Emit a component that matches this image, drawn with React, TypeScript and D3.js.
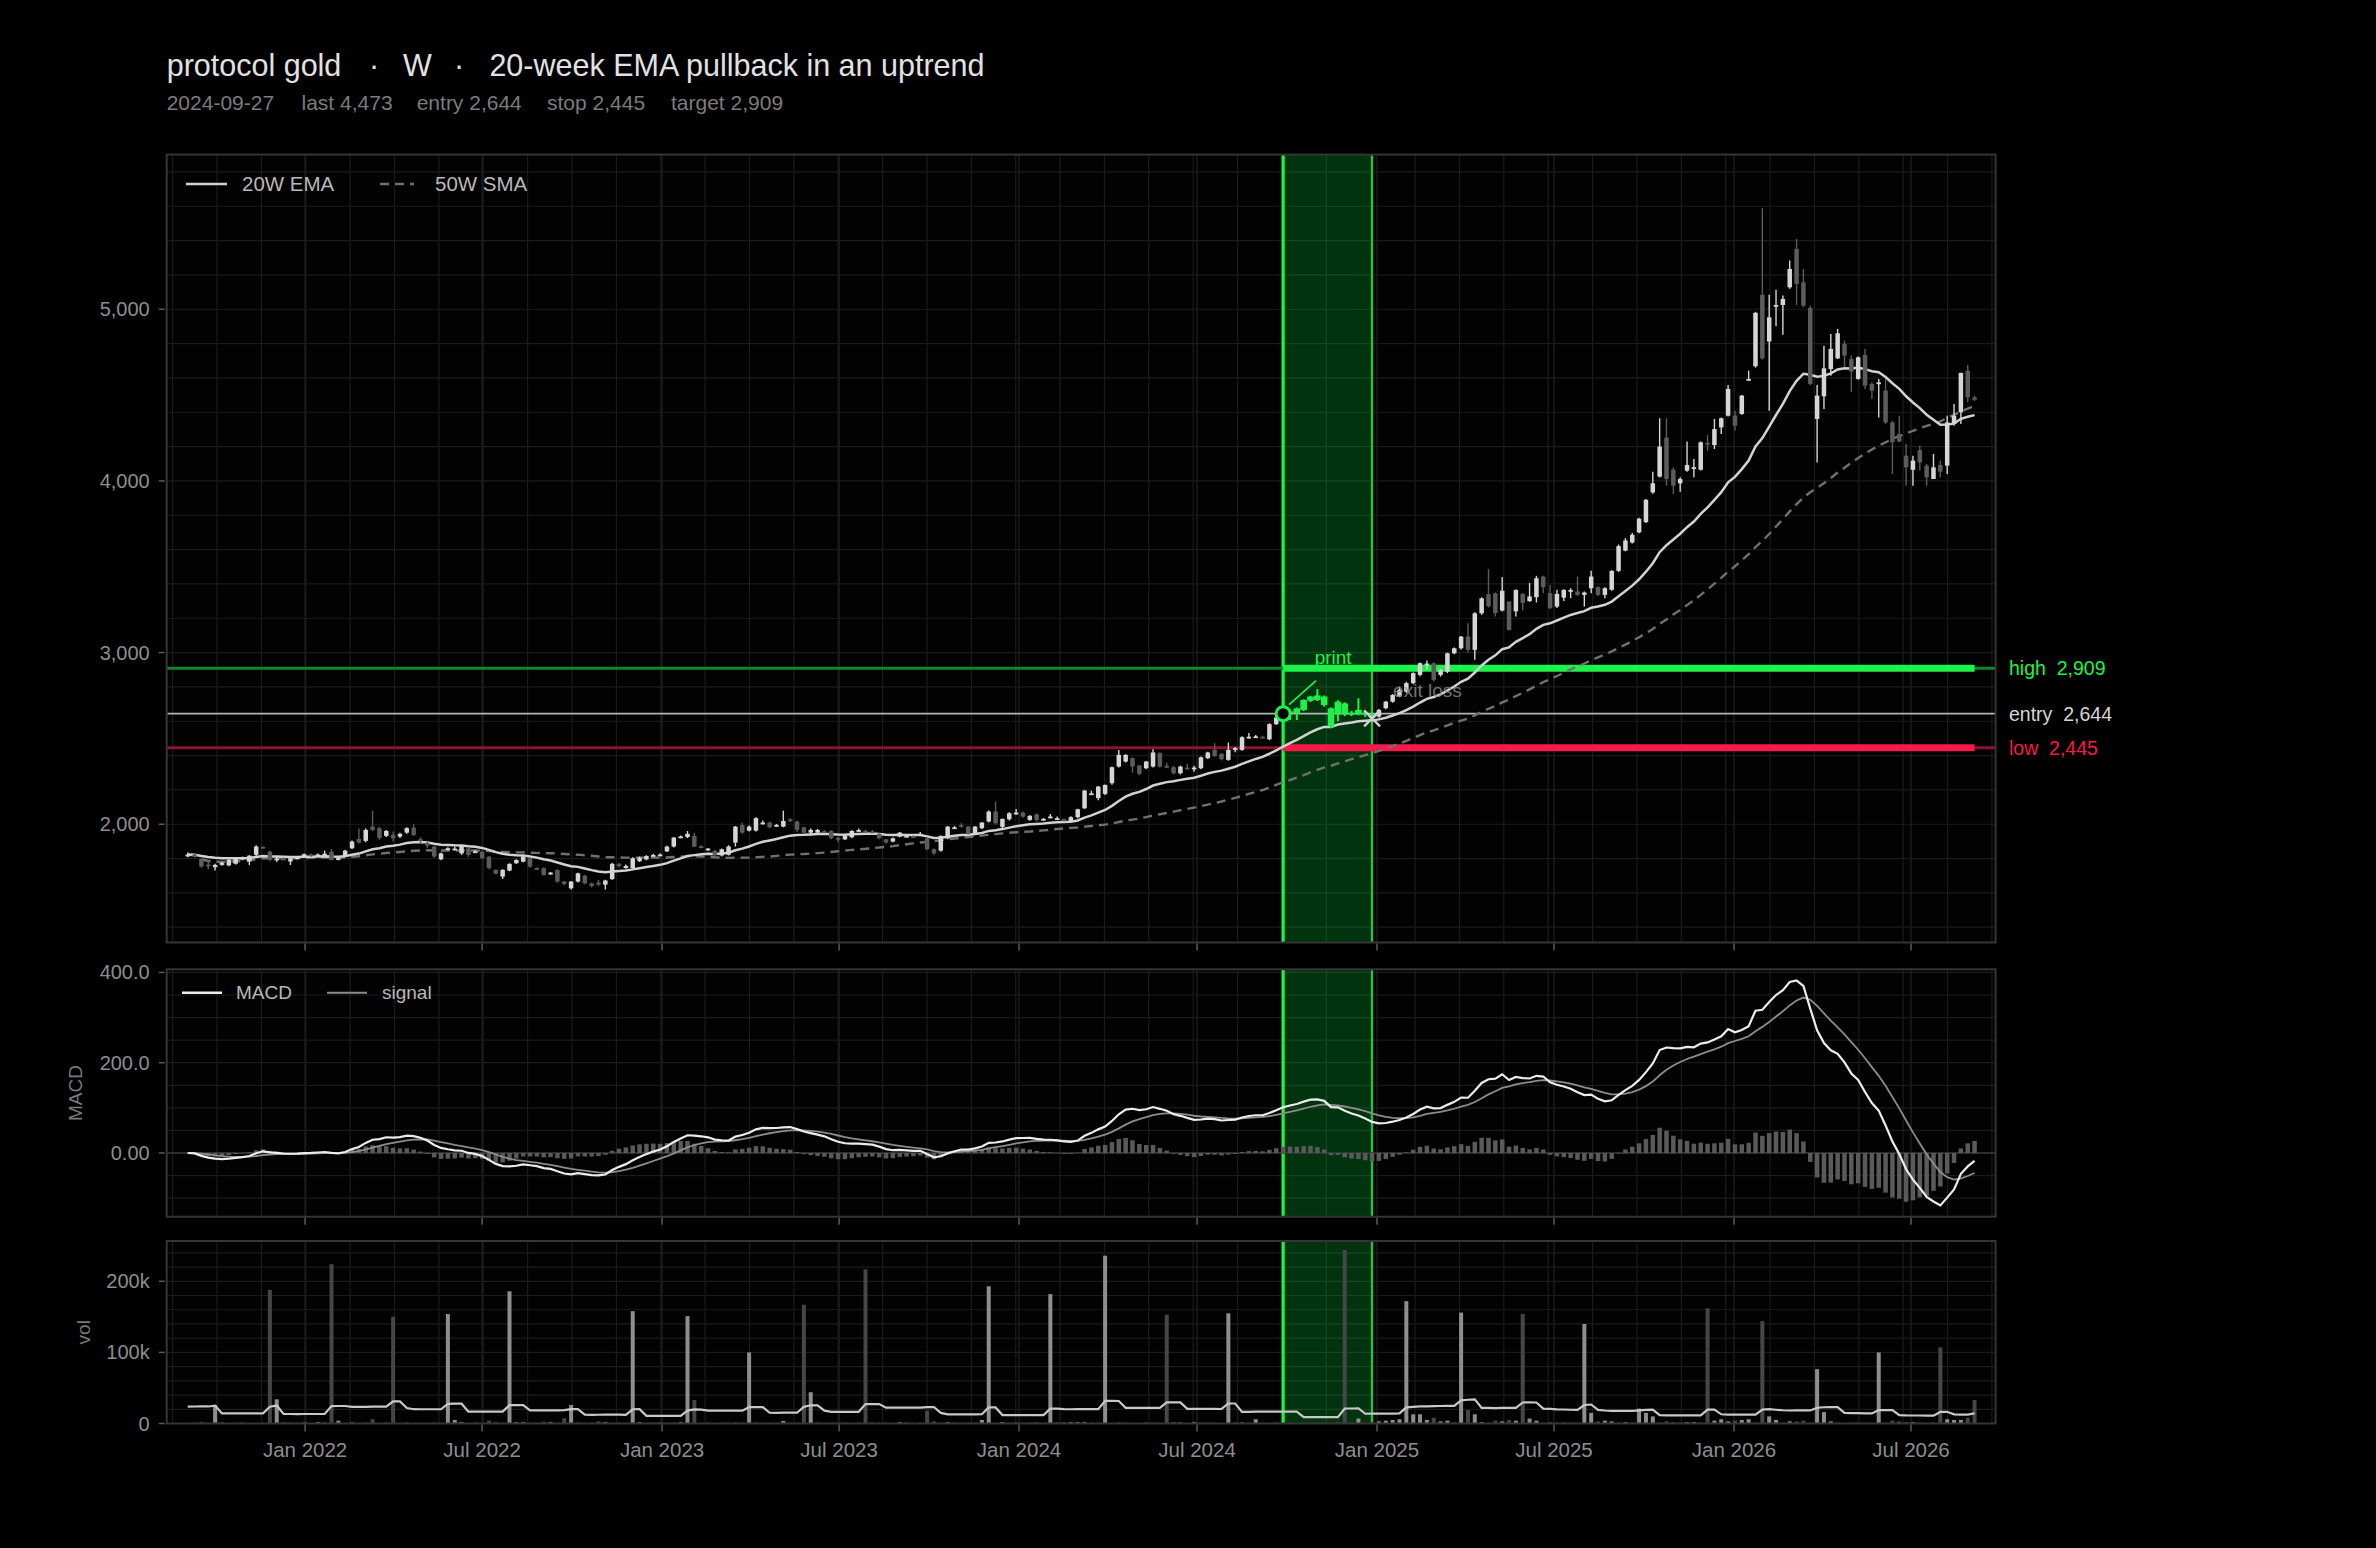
import React from 'react';
import * as d3 from 'd3';

const W = 2376;
const H = 1548;
const FONT = "'Liberation Sans', Arial, Helvetica, sans-serif";

// ---- data -----------------------------------------------------------------
const firstWeek = '2021-09-03';
const entryDate = '2024-09-27';
const exitDate = '2024-12-27';
const entryPrice = 2644;
const stopPrice = 2445;
const targetPrice = 2909;
const exitPrice = 2617;

// weekly OHLC, one value per week from firstWeek
const open = [
  1815, 1823, 1798, 1765, 1750, 1763, 1760, 1770, 1800, 1783,
  1822, 1868, 1840, 1795, 1800, 1783, 1800, 1812, 1825, 1815,
  1818, 1840, 1795, 1812, 1860, 1914, 1903, 1986, 1977, 1932,
  1938, 1928, 1951, 1980, 1913, 1890, 1870, 1796, 1855, 1855,
  1830, 1860, 1840, 1840, 1811, 1734, 1695, 1730, 1773, 1782,
  1802, 1745, 1744, 1710, 1733, 1666, 1627, 1666, 1700, 1655,
  1660, 1648, 1680, 1769, 1745, 1745, 1785, 1795, 1815, 1820,
  1842, 1870, 1925, 1925, 1932, 1872, 1848, 1845, 1818, 1822,
  1893, 1996, 1963, 1963, 2006, 2010, 1990, 1986, 2028, 2016,
  1982, 1951, 1951, 1960, 1961, 1920, 1912, 1924, 1962, 1962,
  1958, 1944, 1912, 1899, 1928, 1930, 1930, 1940, 1918, 1854,
  1846, 1918, 1978, 1996, 1986, 1944, 1977, 2016, 2074, 1985,
  2029, 2062, 2068, 2025, 2058, 2028, 2040, 2030, 2030, 2016,
  2041, 2093, 2174, 2152, 2177, 2239, 2336, 2365, 2385, 2342,
  2326, 2336, 2414, 2340, 2332, 2297, 2330, 2322, 2326, 2385,
  2433, 2410, 2375, 2440, 2433, 2505, 2510, 2510, 2495, 2583,
  2622, 2652, 2647, 2665, 2720, 2750, 2744, 2675, 2640, 2704,
  2640, 2640, 2650, 2640, 2627, 2676, 2714, 2744, 2773, 2822,
  2870, 2930, 2938, 2870, 2889, 2996, 3025, 3093, 3016, 3229,
  3340, 3346, 3245, 3297, 3240, 3342, 3300, 3323, 3443, 3346,
  3268, 3320, 3360, 3356, 3336, 3375, 3381, 3336, 3366, 3476,
  3594, 3641, 3700, 3760, 3933, 4025, 4252, 4065, 3986, 4060,
  4075, 4065, 4222, 4209, 4312, 4380, 4380, 4390, 4590, 4668,
  5085, 4812, 5020, 5025, 5128, 5352, 5157, 5008, 4361, 4493,
  4652, 4714, 4798, 4710, 4594, 4734, 4565, 4570, 4526, 4341,
  4273, 4147, 4065, 4180, 4089, 4011, 4093, 4089, 4332, 4400,
  4642, 4487,
];
const high = [
  1835, 1828, 1800, 1785, 1770, 1782, 1797, 1808, 1812, 1820,
  1877, 1872, 1845, 1812, 1806, 1808, 1812, 1830, 1828, 1830,
  1845, 1855, 1808, 1852, 1905, 1975, 1975, 2078, 1985, 1966,
  1958, 1950, 1982, 2000, 1924, 1898, 1875, 1835, 1866, 1870,
  1880, 1865, 1848, 1845, 1815, 1736, 1738, 1773, 1796, 1815,
  1806, 1750, 1748, 1722, 1738, 1670, 1670, 1718, 1705, 1660,
  1675, 1676, 1775, 1774, 1765, 1808, 1812, 1820, 1828, 1830,
  1875, 1926, 1935, 1960, 1950, 1878, 1862, 1850, 1858, 1877,
  1990, 2010, 1992, 2040, 2022, 2015, 2002, 2078, 2035, 2020,
  1986, 1975, 1972, 1966, 1965, 1925, 1936, 1965, 1975, 1968,
  1966, 1948, 1916, 1922, 1955, 1938, 1934, 1955, 1922, 1858,
  1935, 1990, 1990, 2005, 1990, 1990, 2012, 2080, 2132, 2033,
  2070, 2088, 2075, 2052, 2062, 2036, 2060, 2045, 2032, 2046,
  2090, 2200, 2195, 2222, 2232, 2336, 2433, 2408, 2390, 2345,
  2368, 2437, 2420, 2358, 2340, 2340, 2352, 2340, 2394, 2422,
  2472, 2415, 2476, 2450, 2512, 2532, 2520, 2515, 2588, 2630,
  2672, 2670, 2680, 2728, 2748, 2787, 2750, 2680, 2722, 2710,
  2660, 2734, 2655, 2650, 2672, 2718, 2758, 2802, 2830, 2886,
  2942, 2954, 2944, 2904, 3000, 3030, 3096, 3171, 3235, 3322,
  3486, 3350, 3440, 3300, 3368, 3345, 3405, 3447, 3447, 3394,
  3366, 3369, 3375, 3443, 3356, 3476, 3385, 3380, 3480, 3630,
  3667, 3696, 3785, 3895, 4054, 4365, 4365, 4079, 4021, 4230,
  4128, 4230, 4268, 4361, 4370, 4559, 4409, 4500, 4642, 4985,
  5589, 5084, 5113, 5080, 5284, 5410, 5235, 5021, 4559, 4788,
  4856, 4885, 4817, 4730, 4725, 4769, 4575, 4594, 4594, 4351,
  4380, 4215, 4147, 4205, 4098, 4157, 4118, 4380, 4448, 4630,
  4676, 4497,
];
const low = [
  1808, 1806, 1748, 1738, 1730, 1758, 1755, 1765, 1790, 1763,
  1815, 1860, 1785, 1780, 1790, 1763, 1795, 1808, 1810, 1810,
  1812, 1788, 1790, 1808, 1855, 1888, 1895, 1960, 1910, 1925,
  1900, 1920, 1945, 1932, 1890, 1862, 1805, 1790, 1848, 1848,
  1822, 1810, 1832, 1798, 1738, 1708, 1681, 1726, 1768, 1778,
  1748, 1735, 1700, 1705, 1660, 1645, 1620, 1660, 1650, 1632,
  1640, 1620, 1676, 1748, 1740, 1740, 1780, 1790, 1810, 1814,
  1838, 1865, 1918, 1920, 1866, 1860, 1845, 1818, 1812, 1818,
  1870, 1945, 1958, 1958, 1998, 1976, 1985, 1982, 2015, 1955,
  1945, 1935, 1946, 1950, 1912, 1895, 1908, 1920, 1958, 1955,
  1950, 1912, 1888, 1895, 1924, 1925, 1922, 1935, 1850, 1820,
  1840, 1912, 1972, 1980, 1940, 1940, 1972, 2010, 1998, 1977,
  2022, 2055, 2038, 2020, 2015, 2020, 2035, 2025, 2016, 2012,
  2035, 2088, 2170, 2140, 2170, 2230, 2330, 2360, 2300, 2285,
  2320, 2330, 2330, 2328, 2290, 2290, 2320, 2305, 2320, 2380,
  2392, 2372, 2370, 2420, 2428, 2500, 2505, 2500, 2490, 2578,
  2615, 2608, 2607, 2660, 2712, 2718, 2685, 2560, 2600, 2630,
  2630, 2635, 2625, 2610, 2620, 2670, 2708, 2740, 2765, 2815,
  2862, 2900, 2832, 2860, 2880, 2990, 3018, 3000, 2958, 3220,
  3262, 3210, 3240, 3128, 3210, 3245, 3295, 3292, 3346, 3255,
  3260, 3300, 3318, 3330, 3268, 3345, 3330, 3317, 3360, 3470,
  3590, 3635, 3695, 3755, 3925, 4020, 3972, 3924, 3937, 4054,
  4021, 4060, 4176, 4186, 4273, 4375, 4293, 4385, 4584, 4660,
  4707, 4409, 4901, 4852, 5119, 5025, 5012, 4559, 4108, 4419,
  4613, 4710, 4662, 4520, 4590, 4536, 4477, 4370, 4331, 4040,
  4225, 3972, 3972, 4060, 3972, 4011, 4021, 4040, 4322, 4332,
  4458, 4465,
];
const close = [
  1823, 1812, 1753, 1755, 1763, 1775, 1792, 1802, 1806, 1817,
  1870, 1864, 1792, 1800, 1797, 1802, 1808, 1825, 1815, 1824,
  1828, 1792, 1802, 1846, 1899, 1893, 1967, 1967, 1920, 1961,
  1918, 1944, 1977, 1938, 1908, 1875, 1812, 1830, 1860, 1858,
  1873, 1821, 1842, 1802, 1744, 1712, 1734, 1769, 1792, 1811,
  1753, 1742, 1705, 1718, 1666, 1652, 1666, 1714, 1656, 1640,
  1648, 1672, 1769, 1755, 1757, 1802, 1805, 1815, 1821, 1824,
  1870, 1922, 1929, 1944, 1870, 1868, 1858, 1822, 1854, 1870,
  1986, 1951, 1986, 2035, 2010, 1982, 1996, 2019, 2022, 1967,
  1951, 1967, 1967, 1957, 1918, 1918, 1932, 1961, 1966, 1960,
  1957, 1918, 1893, 1918, 1951, 1932, 1928, 1944, 1854, 1830,
  1932, 1986, 1982, 1986, 1944, 1986, 2010, 2074, 2006, 2031,
  2064, 2068, 2045, 2049, 2025, 2031, 2045, 2035, 2025, 2041,
  2087, 2196, 2180, 2219, 2229, 2332, 2404, 2404, 2336, 2293,
  2365, 2418, 2336, 2333, 2297, 2336, 2326, 2330, 2390, 2418,
  2398, 2379, 2433, 2443, 2507, 2510, 2512, 2507, 2583, 2622,
  2658, 2658, 2675, 2724, 2744, 2724, 2695, 2569, 2714, 2640,
  2650, 2666, 2640, 2620, 2666, 2714, 2753, 2783, 2822, 2880,
  2938, 2936, 2841, 2899, 2996, 3025, 3093, 3016, 3229, 3316,
  3270, 3230, 3360, 3132, 3365, 3290, 3327, 3433, 3381, 3258,
  3342, 3365, 3365, 3336, 3350, 3443, 3336, 3375, 3476, 3620,
  3653, 3686, 3780, 3890, 3986, 4200, 4011, 3972, 4011, 4093,
  4080, 4225, 4213, 4302, 4365, 4536, 4322, 4497, 4594, 4979,
  4714, 4953, 5025, 5060, 5235, 5148, 5021, 4565, 4497, 4656,
  4769, 4860, 4730, 4637, 4720, 4555, 4526, 4574, 4341, 4225,
  4229, 4079, 4118, 4108, 4021, 4079, 4054, 4341, 4380, 4629,
  4487, 4473,
];
// weekly volume, thousands
const volume = [
  0.8, 1.5, 2.3, 0.9, 26, 1.2, 0.7, 0.9, 1.1, 0.6,
  0.8, 1.0, 188, 34, 2.0, 1.0, 0.8, 1.5, 0.6, 2.0,
  1.2, 224, 4.0, 0.8, 1.5, 0.7, 1.0, 6.0, 0.9, 1.1,
  150, 0.8, 1.2, 0.6, 1.0, 0.9, 1.3, 0.7, 154, 5.0,
  2.0, 0.8, 1.1, 0.9, 4.0, 2.0, 0.7, 186, 2.0, 2.0,
  0.9, 1.1, 2.5, 2.0, 0.8, 7.5, 26, 1.0, 0.7, 1.2,
  3.0, 2.0, 0.9, 1.1, 0.8, 158, 2.0, 0.7, 1.0, 1.2,
  0.9, 1.0, 2.0, 151, 33, 0.8, 1.1, 0.7, 1.0, 0.9,
  1.2, 0.8, 100, 1.0, 0.9, 1.1, 0.7, 3.5, 1.0, 0.8,
  167, 44, 1.0, 0.9, 1.2, 0.7, 1.1, 0.8, 1.0, 217,
  1.5, 0.9, 1.0, 0.8, 2.0, 1.1, 0.7, 1.0, 18, 3.0,
  0.9, 2.0, 1.0, 0.8, 1.2, 0.9, 5.0, 193, 1.0, 2.0,
  0.8, 1.1, 0.9, 1.0, 2.0, 0.7, 182, 1.2, 2.0, 2.0,
  2.0, 2.0, 0.9, 1.0, 236, 0.8, 1.1, 0.9, 1.0, 0.7,
  1.2, 0.9, 1.0, 153, 2.0, 1.5, 0.8, 2.0, 1.0, 0.9,
  1.1, 0.8, 155, 1.0, 1.5, 0.9, 6.0, 1.0, 0.8, 1.2,
  0.9, 1.0, 0.8, 1.1, 0.9, 1.5, 1.0, 0.8, 1.2, 244,
  1.0, 7.0, 0.9, 2.0, 3.0, 4.0, 5.0, 6.0, 172, 13,
  13, 5.0, 8.0, 3.0, 4.0, 1.2, 156, 19, 13, 2.0,
  1.0, 4.0, 3.0, 5.0, 4.0, 154, 7.0, 4.0, 1.0, 2.0,
  1.0, 1.2, 0.9, 1.1, 140, 15, 3.0, 4.0, 3.0, 1.0,
  2.0, 1.0, 21, 15, 10, 1.0, 3.0, 2.0, 1.0, 2.0,
  2.0, 1.0, 162, 4.0, 6.0, 3.0, 4.0, 5.0, 6.0, 1.0,
  144, 10, 5.0, 1.0, 3.0, 3.0, 4.0, 1.0, 76.5, 16,
  3.0, 1.0, 0.9, 1.2, 1.0, 0.8, 1.1, 100, 1.0, 4.0,
  3.0, 2.0, 2.0, 1.0, 0.9, 1.1, 107, 6.0, 5.0, 5.0,
  8.0, 33,
];
// the 20 weeks before the first bar (only feeds the 20-week volume average)
const volumeBefore = [
  1.0, 0.8, 1.2, 0.9, 1.1, 220, 0.8, 1.0, 1.3, 0.7,
  1.0, 0.9, 1.2, 0.8, 240, 1.0, 0.9, 1.1, 0.8, 1.0,
];

const priceTicks = [2000, 3000, 4000, 5000];
const macdTicks = [0, 200, 400];
const macdTickLabels = ['0.00', '200.0', '400.0'];
const volTicks = [0, 100, 200];
const volTickLabels = ['0', '100k', '200k'];
const xTickDates = [
  '2022-01-01', '2022-07-01', '2023-01-01', '2023-07-01', '2024-01-01',
  '2024-07-01', '2025-01-01', '2025-07-01', '2026-01-01', '2026-07-01',
];
const xTickLabels = [
  'Jan 2022', 'Jul 2022', 'Jan 2023', 'Jul 2023', 'Jan 2024',
  'Jul 2024', 'Jan 2025', 'Jul 2025', 'Jan 2026', 'Jul 2026',
];

// ---- helpers ----------------------------------------------------------------
const parse = d3.utcParse('%Y-%m-%d');

function ema(values: number[], span: number) {
  const a = 2 / (span + 1);
  const out: number[] = [];
  values.forEach((v, i) => out.push(i === 0 ? v : a * v + (1 - a) * out[i - 1]));
  return out;
}

function rollingMean(values: number[], n: number) {
  return values.map((_, i) => d3.mean(values.slice(Math.max(0, i - n + 1), i + 1)) as number);
}

const C = {
  bg: '#000000',
  grid: '#1b1b1b',
  gridMajor: '#202020',
  frame: '#353535',
  tick: '#8e8e8e',
  up: '#d6d6d6',
  down: '#5c5c5c',
  green: '#1ef24a',
  greenDim: '#13862c',
  red: '#f51a4a',
  redDim: '#8a1531',
};

export default function App() {
  const dates = close.map((_, i) => d3.utcDay.offset(parse(firstWeek)!, i * 7));
  const n = close.length;
  const entry = parse(entryDate)!;
  const exit = parse(exitDate)!;
  const entryIdx = dates.findIndex((d) => +d === +entry);
  const exitIdx = dates.findIndex((d) => +d === +exit);

  const left = 166.7;
  const right = 1995.6;
  const main = { top: 154.6, bottom: 942.5 };
  const mac = { top: 969.3, bottom: 1216.7 };
  const vol = { top: 1241, bottom: 1423.5 };

  const x = d3
    .scaleUtc()
    .domain([d3.utcHour.offset(dates[0], -21.5 * 24), d3.utcHour.offset(dates[n - 1], 21.5 * 24)])
    .range([left, right]);
  const y = d3.scaleLinear().domain([1311, 5901]).range([main.bottom, main.top]);

  const ema20 = ema(close, 20);
  const sma50 = rollingMean(close, 50);
  const e12 = ema(close, 12);
  const e26 = ema(close, 26);
  const macd = e12.map((v, i) => v - e26[i]);
  const signal = ema(macd, 9);
  const hist = macd.map((v, i) => v - signal[i]);
  const volAvg = rollingMean([...volumeBefore, ...volume], 20).slice(volumeBefore.length);

  const mLo = d3.min([...macd, ...signal, ...hist]) as number;
  const mHi = d3.max([...macd, ...signal, ...hist]) as number;
  const mPad = (mHi - mLo) * 0.05;
  const ym = d3.scaleLinear().domain([mLo - mPad, mHi + mPad]).range([mac.bottom, mac.top]);
  const yv = d3
    .scaleLinear()
    .domain([0, (d3.max(volume) as number) * 1.052])
    .range([vol.bottom, vol.top]);

  const bw = 4.5;
  const bwTrade = 6.6;
  const line = (ys: d3.ScaleLinear<number, number>, vals: number[]) =>
    d3
      .line<number>()
      .x((_, i) => x(dates[i]))
      .y((v) => ys(v))(vals) as string;

  // grid positions
  const minorStart = d3.utcHour.offset(dates[0], -15.4 * 24);
  const minorDates: Date[] = [];
  for (let k = 0; ; k++) {
    const d = d3.utcHour.offset(minorStart, Math.round(k * 45.37 * 24));
    if (x(d) > right) break;
    minorDates.push(d);
  }
  const xMajor = xTickDates.map((s) => parse(s)!);

  const panel = (
    key: string,
    top: number,
    bottom: number,
    ys: d3.ScaleLinear<number, number>,
    gridVals: number[]
  ) => (
    <g key={key}>
      <rect x={left} y={top} width={right - left} height={bottom - top} fill="#020202" />
      {minorDates.map((d, i) => (
        <line key={'v' + i} x1={x(d)} x2={x(d)} y1={top} y2={bottom} stroke={C.grid} strokeWidth={1.2} />
      ))}
      {xMajor.map((d, i) => (
        <line key={'vm' + i} x1={x(d)} x2={x(d)} y1={top} y2={bottom} stroke={C.gridMajor} strokeWidth={1.3} />
      ))}
      {gridVals
        .filter((v) => ys(v) > top + 1 && ys(v) < bottom - 1)
        .map((v, i) => (
          <line key={'h' + i} x1={left} x2={right} y1={ys(v)} y2={ys(v)} stroke={C.grid} strokeWidth={1.2} />
        ))}
    </g>
  );

  const frame = (top: number, bottom: number) => (
    <rect x={left} y={top} width={right - left} height={bottom - top} fill="none" stroke={C.frame} strokeWidth={2} />
  );

  const bottomTicks = (yy: number) =>
    xMajor.map((d, i) => (
      <line key={i} x1={x(d)} x2={x(d)} y1={yy + 1} y2={yy + 8} stroke="#5a5a5a" strokeWidth={1.5} />
    ));

  const yLabels = (ys: d3.ScaleLinear<number, number>, vals: number[], labels: string[]) =>
    vals.map((v, i) => (
      <g key={i}>
        <line x1={left - 8} x2={left - 2} y1={ys(v)} y2={ys(v)} stroke="#5a5a5a" strokeWidth={1.5} />
        <text x={left - 17} y={ys(v)} dy="0.35em" textAnchor="end" fill={C.tick} fontSize={20}>
          {labels[i]}
        </text>
      </g>
    ));

  const fmt = d3.format(',');
  const xE = x(entry);
  const xX = x(exit);
  const xLast = x(dates[n - 1]);
  const inTrade = (i: number) => i >= entryIdx && i <= exitIdx;

  const band = (top: number, bottom: number) => (
    <g>
      <rect x={xE} y={top} width={xX - xE} height={bottom - top} fill="#00ff40" opacity={0.2} />
      <line x1={xE} x2={xE} y1={top} y2={bottom} stroke={C.green} strokeWidth={3.2} />
      <line x1={xX} x2={xX} y1={top} y2={bottom} stroke={C.green} strokeWidth={2} opacity={0.85} />
    </g>
  );

  return (
    <div style={{ width: W, height: H, background: C.bg }}>
      <style>{'body{margin:0;background:#000}'}</style>
      <svg width={W} height={H} fontFamily={FONT} style={{ display: 'block', background: C.bg }}>
        <defs>
          <clipPath id="clipMain">
            <rect x={left} y={main.top} width={right - left} height={main.bottom - main.top} />
          </clipPath>
          <clipPath id="clipMacd">
            <rect x={left} y={mac.top} width={right - left} height={mac.bottom - mac.top} />
          </clipPath>
        </defs>

        {/* title */}
        <g fill="#e2e2e2" fontSize={30.5}>
          <text x={166.7} y={76}>protocol gold</text>
          <text x={369} y={76}>·</text>
          <text x={403} y={76}>W</text>
          <text x={454} y={76}>·</text>
          <text x={489.4} y={76}>20-week EMA pullback in an uptrend</text>
        </g>
        <g fill="#7c7c7c" fontSize={21}>
          <text x={166.7} y={110}>{entryDate}</text>
          <text x={301.5} y={110}>{`last ${fmt(close[n - 1])}`}</text>
          <text x={416.7} y={110}>{`entry ${fmt(entryPrice)}`}</text>
          <text x={547} y={110}>{`stop ${fmt(stopPrice)}`}</text>
          <text x={671} y={110}>{`target ${fmt(targetPrice)}`}</text>
        </g>

        {/* ---------------- price panel ---------------- */}
        {panel('main', main.top, main.bottom, y, d3.range(1400, 5900, 200))}
        {band(main.top, main.bottom)}
        <g clipPath="url(#clipMain)">
          {/* level lines */}
          <line x1={left} x2={right} y1={y(targetPrice)} y2={y(targetPrice)} stroke={C.greenDim} strokeWidth={3} />
          <line x1={left} x2={right} y1={y(stopPrice)} y2={y(stopPrice)} stroke={C.redDim} strokeWidth={3} />
          <line x1={left} x2={right} y1={y(entryPrice)} y2={y(entryPrice)} stroke="#b4b4b4" strokeWidth={1.8} />
          <line x1={xE} x2={xLast} y1={y(targetPrice)} y2={y(targetPrice)} stroke={C.green} strokeWidth={7} />
          <line x1={xE} x2={xLast} y1={y(stopPrice)} y2={y(stopPrice)} stroke={C.red} strokeWidth={7} />

          {/* moving averages */}
          <path d={line(y, sma50)} fill="none" stroke="#707070" strokeWidth={2.4} strokeDasharray="9 6" />
          <path d={line(y, ema20)} fill="none" stroke="#d2d2d2" strokeWidth={2.5} />

          {/* candles */}
          {close.map((c, i) => {
            const o = open[i];
            const isUp = c >= o;
            const trade = inTrade(i);
            const col = trade ? C.green : isUp ? C.up : C.down;
            const w = trade ? bwTrade : bw;
            const cx = x(dates[i]);
            const top = y(Math.max(o, c));
            const h = Math.max(1.8, Math.abs(y(o) - y(c)));
            return (
              <g key={i}>
                <line x1={cx} x2={cx} y1={y(high[i])} y2={y(low[i])} stroke={col} strokeWidth={trade ? 2 : 1.4} />
                <rect x={cx - w / 2} y={top} width={w} height={h} fill={col} />
              </g>
            );
          })}

          {/* trade annotations */}
          <line
            x1={xE + 6}
            y1={y(entryPrice) - 9}
            x2={xE + 33}
            y2={y(entryPrice) - 33}
            stroke={C.green}
            strokeWidth={1.6}
          />
          <circle cx={xE} cy={y(entryPrice)} r={7} fill="#000" stroke={C.green} strokeWidth={3} />
          <text x={xE + 50} y={y(targetPrice) - 4} textAnchor="middle" fill={C.green} fontSize={19}>
            print
          </text>
          <g stroke="#d0d0d0" strokeWidth={2.4}>
            <line x1={xX - 8} x2={xX + 8} y1={y(exitPrice) - 8} y2={y(exitPrice) + 8} />
            <line x1={xX - 8} x2={xX + 8} y1={y(exitPrice) + 8} y2={y(exitPrice) - 8} />
          </g>
          <text x={xX + 21} y={y(exitPrice) - 21} fill="#8a8a8a" fontSize={19} opacity={0.8}>
            exit loss
          </text>
        </g>
        {frame(main.top, main.bottom)}
        {bottomTicks(main.bottom)}
        {yLabels(y, priceTicks, priceTicks.map(fmt))}

        {/* legend */}
        <g fontSize={20.5} fill="#b8b8b8">
          <line x1={186} x2={227} y1={184} y2={184} stroke="#d2d2d2" strokeWidth={2.5} />
          <text x={242} y={184} dy="0.35em">20W EMA</text>
          <line x1={380} x2={414} y1={184} y2={184} stroke="#707070" strokeWidth={2.4} strokeDasharray="9 6" />
          <text x={435} y={184} dy="0.35em">50W SMA</text>
        </g>

        {/* level labels */}
        <g fontSize={19.5}>
          <text x={2009} y={y(targetPrice)} dy="0.35em" fill={C.green}>
            {`high\u00a0\u00a0${fmt(targetPrice)}`}
          </text>
          <text x={2009} y={y(entryPrice)} dy="0.35em" fill="#d6d6d6">
            {`entry\u00a0\u00a0${fmt(entryPrice)}`}
          </text>
          <text x={2009} y={y(stopPrice)} dy="0.35em" fill={C.red}>
            {`low\u00a0\u00a0${fmt(stopPrice)}`}
          </text>
        </g>

        {/* ---------------- MACD panel ---------------- */}
        {panel('macd', mac.top, mac.bottom, ym, d3.range(-100, 401, 50))}
        {band(mac.top, mac.bottom)}
        <g clipPath="url(#clipMacd)">
          <line x1={left} x2={right} y1={ym(0)} y2={ym(0)} stroke="#3a3a3a" strokeWidth={1.5} />
          {hist.map((v, i) => (
            <rect
              key={i}
              x={x(dates[i]) - bw / 2}
              y={Math.min(ym(0), ym(v))}
              width={bw}
              height={Math.abs(ym(v) - ym(0))}
              fill="#5a5a5a"
            />
          ))}
          <path d={line(ym, signal)} fill="none" stroke="#8c8c8c" strokeWidth={1.8} />
          <path d={line(ym, macd)} fill="none" stroke="#ececec" strokeWidth={2.2} />
        </g>
        {frame(mac.top, mac.bottom)}
        {bottomTicks(mac.bottom)}
        {yLabels(ym, macdTicks, macdTickLabels)}
        <text
          transform={`translate(75,${(mac.top + mac.bottom) / 2}) rotate(-90)`}
          textAnchor="middle"
          dy="0.35em"
          fill="#7a7a7a"
          fontSize={19}
        >
          MACD
        </text>
        <g fontSize={19} fill="#b8b8b8">
          <line x1={182} x2={222} y1={992.7} y2={992.7} stroke="#ececec" strokeWidth={2.4} />
          <text x={236} y={992.7} dy="0.35em">MACD</text>
          <line x1={327} x2={367} y1={992.7} y2={992.7} stroke="#8c8c8c" strokeWidth={2} />
          <text x={382} y={992.7} dy="0.35em">signal</text>
        </g>

        {/* ---------------- volume panel ---------------- */}
        {panel('vol', vol.top, vol.bottom, yv, d3.range(20, 260, 20))}
        {band(vol.top, vol.bottom)}
        {volume.map((v, i) => {
          const isUp = close[i] >= open[i];
          return (
            <rect
              key={i}
              x={x(dates[i]) - 2}
              y={yv(v)}
              width={4}
              height={vol.bottom - yv(v)}
              fill={isUp ? '#8e8e8e' : '#464646'}
            />
          );
        })}
        <path d={line(yv, volAvg)} fill="none" stroke="#c8c8c8" strokeWidth={2.2} />
        {frame(vol.top, vol.bottom)}
        {bottomTicks(vol.bottom)}
        {yLabels(yv, volTicks, volTickLabels)}
        <text
          transform={`translate(83,${(vol.top + vol.bottom) / 2}) rotate(-90)`}
          textAnchor="middle"
          dy="0.35em"
          fill="#7a7a7a"
          fontSize={19}
        >
          vol
        </text>
        {xMajor.map((d, i) => (
          <text key={i} x={x(d)} y={1450} dy="0.35em" textAnchor="middle" fill={C.tick} fontSize={20.5}>
            {xTickLabels[i]}
          </text>
        ))}
      </svg>
    </div>
  );
}
